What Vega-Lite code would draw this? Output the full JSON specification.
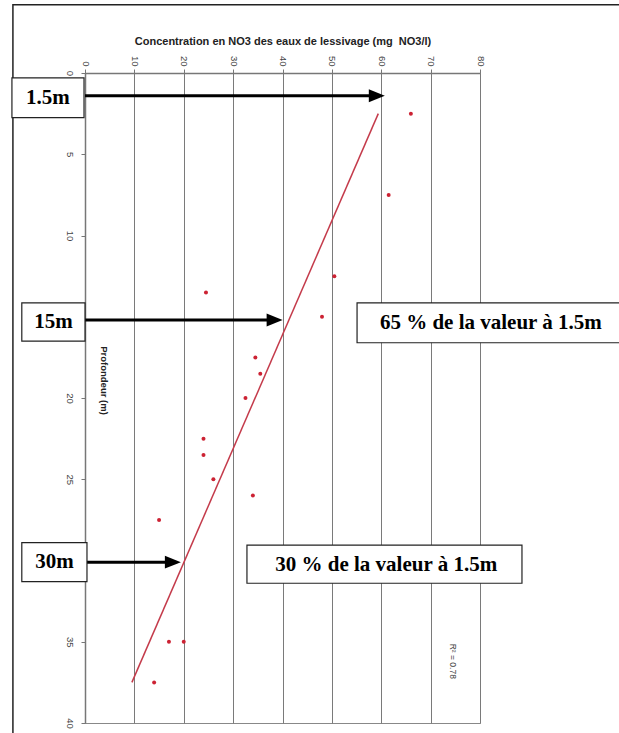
{
  "$schema": "https://vega.github.io/schema/vega-lite/v6.json",
  "width": 395,
  "height": 650,
  "autosize": {"type": "none"},
  "padding": {"left": 85, "top": 73, "right": 139, "bottom": 10},
  "background": "white",
  "config": {"view": {"stroke": "#888", "strokeWidth": 1}, "font": "Liberation Sans"},
  "datasets": {
    "points": [
      {"x": 66, "y": 2.5}, {"x": 61.5, "y": 7.5}, {"x": 50.5, "y": 12.5}, {"x": 24.5, "y": 13.5},
      {"x": 48, "y": 15}, {"x": 34.5, "y": 17.5}, {"x": 35.5, "y": 18.5}, {"x": 32.5, "y": 20},
      {"x": 24, "y": 22.5}, {"x": 24, "y": 23.5}, {"x": 26, "y": 25}, {"x": 34, "y": 26},
      {"x": 15, "y": 27.5}, {"x": 17, "y": 35}, {"x": 20, "y": 35}, {"x": 14, "y": 37.5}
    ],
    "regline": [{"x": 59.4, "y": 2.5}, {"x": 9.5, "y": 37.5}],
    "frame": [{"x": -14.6, "x2": 140, "y": -4.2, "y2": 50}],
    "boxes": [
      {"x": -14.8, "x2": -0.2, "y": 0.3, "y2": 2.75},
      {"x": -12.8, "x2": 0, "y": 14.15, "y2": 16.5},
      {"x": -12.8, "x2": 0.4, "y": 28.9, "y2": 31.3},
      {"x": 55.1, "x2": 109, "y": 14.15, "y2": 16.6},
      {"x": 32.8, "x2": 88.5, "y": 29.05, "y2": 31.4}
    ],
    "labels": [
      {"x": -7.5, "y": 1.55, "text": "1.5m"},
      {"x": -6.4, "y": 15.35, "text": "15m"},
      {"x": -6.2, "y": 30.1, "text": "30m"},
      {"x": 82.2, "y": 15.4, "text": "65 % de la valeur à 1.5m"},
      {"x": 61, "y": 30.25, "text": "30 % de la valeur à 1.5m"}
    ],
    "arrows": [{"x": 0, "x2": 58, "y": 1.4}, {"x": 0, "x2": 37.5, "y": 15.2}, {"x": 0, "x2": 17, "y": 30.1}],
    "heads": [{"x": 59.1, "y": 1.4}, {"x": 38.4, "y": 15.2}, {"x": 17.8, "y": 30.1}],
    "r2": [{"x": 74.5, "y": 36.2, "text": "R² = 0.78"}]
  },
  "encoding": {
    "x": {
      "field": "x", "type": "quantitative",
      "scale": {"domain": [0, 80], "nice": false, "zero": false},
      "axis": {
        "orient": "top", "values": [0, 10, 20, 30, 40, 50, 60, 70, 80],
        "grid": true, "gridColor": "#7a7a7a", "gridWidth": 1,
        "domainColor": "#777", "domainWidth": 1.5, "tickColor": "#777", "tickSize": 4,
        "labelAngle": 90, "labelAlign": "right", "labelBaseline": "middle",
        "labelFontSize": 9.5, "labelColor": "#444", "labelPadding": 3,
        "title": "Concentration en NO3 des eaux de lessivage (mg \u00a0NO3/l)",
        "titleFontSize": 11, "titleFontWeight": "bold", "titleColor": "#222",
        "titleY": -32, "titleBaseline": "middle"
      }
    },
    "y": {
      "field": "y", "type": "quantitative",
      "scale": {"domain": [0, 40], "reverse": true, "nice": false, "zero": false},
      "axis": {
        "orient": "left", "values": [0, 5, 10, 15, 20, 25, 30, 35, 40],
        "grid": false, "domainColor": "#777", "domainWidth": 1.5, "tickColor": "#777", "tickSize": 4,
        "labelAngle": 90, "labelAlign": "center", "labelBaseline": "top",
        "labelFontSize": 9.5, "labelColor": "#444", "labelPadding": 7,
        "title": "Profondeur (m)", "titleAngle": 90, "titleX": 18, "titleY": 307,
        "titleAlign": "center", "titleBaseline": "middle",
        "titleFontSize": 9.5, "titleFontWeight": "bold", "titleColor": "#222"
      }
    }
  },
  "layer": [
    {
      "data": {"name": "frame"},
      "mark": {"type": "rect", "fillOpacity": 0, "stroke": "#222", "strokeWidth": 1.5},
      "encoding": {"x2": {"field": "x2"}, "y2": {"field": "y2"}}
    },
    {
      "data": {"name": "regline"},
      "mark": {"type": "line", "color": "#c43b4b", "strokeWidth": 1.5},
      "encoding": {}
    },
    {
      "data": {"name": "points"},
      "mark": {"type": "point", "filled": true, "color": "#cc2233", "size": 16, "opacity": 1},
      "encoding": {}
    },
    {
      "data": {"name": "arrows"},
      "mark": {"type": "rule", "color": "black", "strokeWidth": 3},
      "encoding": {"x2": {"field": "x2"}}
    },
    {
      "data": {"name": "heads"},
      "mark": {"type": "point", "filled": true, "color": "black", "opacity": 1, "size": 256, "shape": "M-1,-0.8L1,0L-1,0.8Z"},
      "encoding": {}
    },
    {
      "data": {"name": "boxes"},
      "mark": {"type": "rect", "fill": "white", "stroke": "#222", "strokeWidth": 1.2},
      "encoding": {"x2": {"field": "x2"}, "y2": {"field": "y2"}}
    },
    {
      "data": {"name": "labels"},
      "mark": {"type": "text", "font": "Liberation Serif", "fontWeight": "bold", "fontSize": 21, "align": "center", "baseline": "middle", "color": "black"},
      "encoding": {"text": {"field": "text"}}
    },
    {
      "data": {"name": "r2"},
      "mark": {"type": "text", "angle": 90, "fontSize": 8.5, "color": "#444", "align": "center", "baseline": "middle"},
      "encoding": {"text": {"field": "text"}}
    }
  ]
}
